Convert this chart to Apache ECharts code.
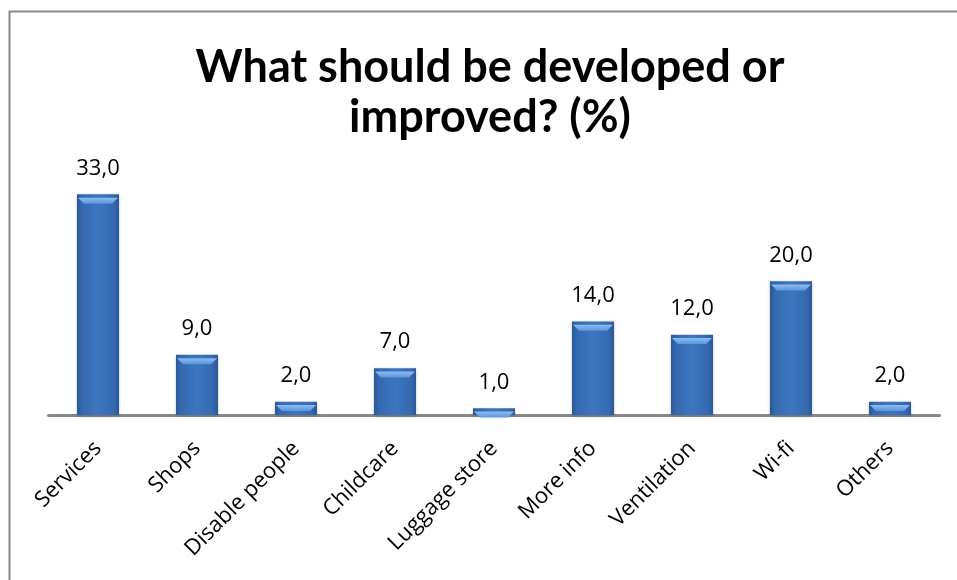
<!DOCTYPE html>
<html>
<head>
<meta charset="utf-8">
<script src="https://cdn.jsdelivr.net/npm/echarts@6/dist/echarts.min.js"></script>
<style>
html,body{margin:0;padding:0;background:#fff;}
#chart{width:957px;height:580px;}
</style>
</head>
<body>
<div id="chart"></div>
<script>
const categories = ['Services','Shops','Disable people','Childcare','Luggage store','More info','Ventilation','Wi-fi','Others'];
const values = [33.0, 9.0, 2.0, 7.0, 1.0, 14.0, 12.0, 20.0, 2.0];
const titleText = 'What should be developed or\nimproved? (%)';

const chart = echarts.init(document.getElementById('chart'));
const fontFam = 'Lato, "Open Sans", sans-serif';
const labelFam = '"Open Sans", Lato, sans-serif';
chart.setOption({
  animation: false,
  backgroundColor: '#fff',
  title: {
    text: titleText,
    left: 485,
    textAlign: 'center',
    top: 37,
    textStyle: {fontFamily: fontFam, fontWeight: 'bold', fontSize: 45, lineHeight: 50, color: '#000'}
  },
  graphic: [{
    type: 'rect',
    shape: {x: 9.5, y: 11.5, width: 960, height: 600},
    style: {fill: 'none', stroke: '#888', lineWidth: 2},
    silent: true
  }],
  grid: {left: 48.5, right: 17.5, top: 181, bottom: 165, containLabel: false},
  xAxis: {
    type: 'category',
    data: categories,
    axisLine: {lineStyle: {color: '#888', width: 3}},
    axisTick: {show: false},
    axisLabel: {rotate: 45, margin: 30, fontFamily: labelFam, fontSize: 22, color: '#000', interval: 0}
  },
  yAxis: {
    type: 'value', min: 0, max: 35, show: false,
    splitLine: {show: false}
  },
  series: [{
    type: 'bar',
    data: values,
    barWidth: 42,
    itemStyle: {
      color: new echarts.graphic.LinearGradient(0, 0, 1, 0, [
        {offset: 0, color: '#2b5797'},
        {offset: 0.12, color: '#3569b0'},
        {offset: 0.5, color: '#3d76c0'},
        {offset: 0.88, color: '#3569b0'},
        {offset: 1, color: '#2b5797'}
      ]),
      shadowColor: 'rgba(0,0,0,0.25)', shadowBlur: 3, shadowOffsetY: 1
    },
    label: {
      show: true, position: 'top', distance: 15,
      fontFamily: labelFam, fontSize: 22, color: '#000',
      formatter: p => p.value.toFixed(1).replace('.', ',')
    },
    z: 2
  }, {
    type: 'pictorialBar',
    data: values,
    symbol: 'path://M0,0 L20,0 L17,3 L3,3 Z',
    symbolSize: [40, 6],
    symbolPosition: 'end',
    symbolOffset: [0, '55%'],
    itemStyle: {
      color: new echarts.graphic.LinearGradient(0, 0, 0, 1, [
        {offset: 0, color: '#8cbdf2'},
        {offset: 1, color: '#5b95dc'}
      ])
    },
    silent: true,
    z: 3
  }]
});
</script>
</body>
</html>
